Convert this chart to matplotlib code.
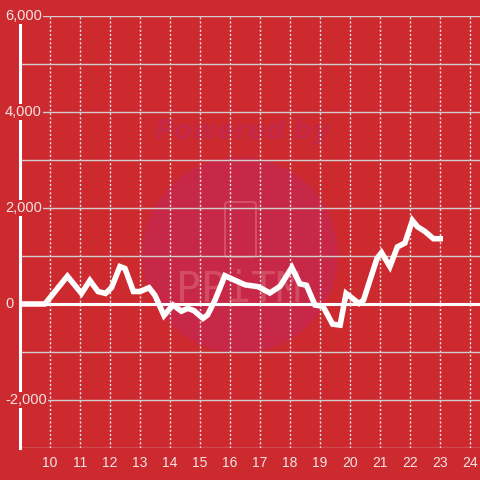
import matplotlib
matplotlib.use("Agg")
import matplotlib.pyplot as plt
from matplotlib.patches import Circle, FancyBboxPatch
from matplotlib.transforms import blended_transform_factory

# === Data (hour of day, value) ===
hours = [9.0, 9.83, 10.58, 11.05, 11.33, 11.6, 11.85, 12.05, 12.33, 12.5,
         12.78, 13.0, 13.3, 13.5, 13.8, 14.1, 14.38, 14.6, 14.8, 15.1,
         15.25, 15.5, 15.83, 16.0, 16.5, 16.94, 17.33, 17.67, 18.06, 18.33,
         18.55, 18.83, 19.1, 19.42, 19.67, 19.87, 20.3, 20.45, 20.9, 21.05,
         21.33, 21.58, 21.83, 22.08, 22.25, 22.5, 22.78, 23.1]
values = [0, 0, 580, 220, 490, 260, 220, 340, 780, 740,
          260, 260, 340, 180, -240, -20, -150, -90, -140, -300,
          -230, 80, 590, 540, 400, 360, 230, 370, 760, 420,
          390, -20, -50, -420, -440, 220, 10, 80, 950, 1070,
          780, 1190, 1270, 1740, 1610, 1510, 1360, 1360]

x_ticks = list(range(10, 25))
y_ticks = [-2000, 0, 2000, 4000, 6000]
y_minor = [-3000, -1000, 1000, 3000, 5000]

# === Style ===
bg = "#cc2a2f"
label_color = "#f2e4e4"
plt.rcParams["font.family"] = ["Liberation Sans", "DejaVu Sans"]

fig = plt.figure(figsize=(4.8, 4.8), dpi=100, facecolor=bg)
ax = fig.add_axes([20 / 480, 32 / 480, 460 / 480, 432 / 480])
ax.set_facecolor(bg)

# === Watermark ===
ax.add_patch(Circle((240 / 480, 1 - 255 / 480), 98 / 480, transform=fig.transFigure,
                    facecolor="#c82848", edgecolor="none", zorder=0.6))
ax.text(242 / 480, 1 - 132 / 480, "Powered by", transform=fig.transFigure,
        ha="center", va="center", fontsize=19, fontweight="bold", style="italic",
        family="DejaVu Sans", color="#c42846", zorder=0.7)
ax.add_patch(FancyBboxPatch((225 / 480, 1 - 257 / 480), 31 / 480, 55 / 480,
                            boxstyle="round,pad=0,rounding_size=0.006",
                            transform=fig.transFigure, facecolor="none",
                            edgecolor="#d5506a", lw=1.4, zorder=0.7))
ax.text(239 / 480, 1 - 290 / 480, "PPiTM", transform=fig.transFigure,
        ha="center", va="center", fontsize=30, family="DejaVu Sans Mono",
        color="#d24c64", zorder=0.7)

# === Axes ===
ax.set_xlim(9, 24.333)
ax.set_ylim(-3000, 6000)
ax.set_xticks(x_ticks)
ax.set_xticklabels([str(t) for t in x_ticks])
ax.set_yticks(y_ticks)
ax.set_yticks(y_minor, minor=True)
ax.set_yticklabels([])
ax.tick_params(axis="both", which="both", length=0)
ax.tick_params(axis="x", colors=label_color, labelsize=10, pad=6)

ax.grid(axis="y", which="both", color="#d2cccc", lw=1)
ax.grid(axis="x", color="#ece6e6", lw=1, linestyle=(0, (1.5, 1.5)))

for side in ["top", "right", "bottom"]:
    ax.spines[side].set_visible(False)
ax.spines["left"].set_color("white")
ax.spines["left"].set_linewidth(2.2)

# y labels sit on top of the axis line with a background box
trans = blended_transform_factory(fig.transFigure, ax.transData)
for t in y_ticks:
    ax.text(5 / 480, t, f"{t:,}", transform=trans, ha="left", va="center",
            fontsize=10.5, color=label_color, zorder=10, clip_on=False,
            bbox=dict(facecolor=bg, edgecolor="none", pad=1))

# === Lines ===
ax.axhline(0, color="white", lw=2.2, zorder=2)
ax.plot(hours, values, color="white", lw=4.0, solid_joinstyle="miter",
        solid_capstyle="butt", zorder=3)

fig.savefig("out.png", dpi=100, facecolor=bg)
